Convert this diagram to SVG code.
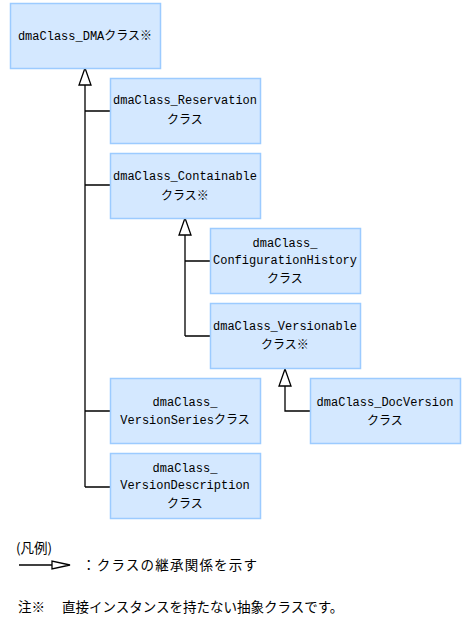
<svg xmlns="http://www.w3.org/2000/svg" width="463" height="631" viewBox="0 0 463 631">
<style>
.box{fill:#D4E8FF;stroke:#9CCBFF;stroke-width:1.5}
.t{font-family:"Liberation Mono","Noto Sans CJK JP",monospace;font-size:12px;fill:#000;text-anchor:middle}
.j{font-family:"Noto Sans CJK JP",sans-serif;font-size:12px}
.ln{fill:none;stroke:#000;stroke-width:1.3}
.tri{fill:#fff;stroke:#000;stroke-width:1.3}
.lg{font-family:"Noto Sans CJK JP",sans-serif;font-size:13.5px;fill:#000}
</style>
<rect width="463" height="631" fill="#fff"/>
<g id="connectors">
<path class="ln" d="M85,85V487M85,111H110M85,185H110M85,411H110M85,487H110"/>
<path class="ln" d="M185,235V336M185,261H210M185,336H210"/>
<path class="ln" d="M285,386V411H310"/>
<polygon class="tri" points="85,68 79,85 91,85"/>
<polygon class="tri" points="185,218 179,235 191,235"/>
<polygon class="tri" points="285,369 279,386 291,386"/>
</g>
<g id="dma">
<rect class="box" x="10.5" y="3.5" width="150" height="65"/>
<text class="t" x="85" y="40">dmaClass_DMA<tspan class="j">クラス※</tspan></text>
</g>
<g id="reservation">
<rect class="box" x="110.5" y="78.5" width="150" height="65"/>
<text class="t" x="185" y="104">dmaClass_Reservation</text>
<text class="t" x="185" y="124"><tspan class="j">クラス</tspan></text>
</g>
<g id="containable">
<rect class="box" x="110.5" y="153.5" width="150" height="65"/>
<text class="t" x="185" y="180">dmaClass_Containable</text>
<text class="t" x="185" y="200"><tspan class="j">クラス※</tspan></text>
</g>
<g id="confighistory">
<rect class="box" x="210.5" y="228.5" width="150" height="65"/>
<text class="t" x="285" y="247">dmaClass_</text>
<text class="t" x="285" y="264">ConfigurationHistory</text>
<text class="t" x="285" y="283"><tspan class="j">クラス</tspan></text>
</g>
<g id="versionable">
<rect class="box" x="210.5" y="303.5" width="150" height="65"/>
<text class="t" x="285" y="330">dmaClass_Versionable</text>
<text class="t" x="285" y="349"><tspan class="j">クラス※</tspan></text>
</g>
<g id="versionseries">
<rect class="box" x="110.5" y="378.5" width="150" height="65"/>
<text class="t" x="185" y="406">dmaClass_</text>
<text class="t" x="185" y="424">VersionSeries<tspan class="j">クラス</tspan></text>
</g>
<g id="docversion">
<rect class="box" x="310.5" y="378.5" width="150" height="65"/>
<text class="t" x="385" y="406">dmaClass_DocVersion</text>
<text class="t" x="385" y="425"><tspan class="j">クラス</tspan></text>
</g>
<g id="versiondescription">
<rect class="box" x="110.5" y="453.5" width="150" height="65"/>
<text class="t" x="185" y="472">dmaClass_</text>
<text class="t" x="185" y="489">VersionDescription</text>
<text class="t" x="185" y="508"><tspan class="j">クラス</tspan></text>
</g>
<g id="legend">
<text class="lg" x="16" y="553">(凡例)</text>
<path class="ln" d="M19,565H52"/>
<polygon class="tri" points="52,561 52,569 70,565"/>
<text class="lg" x="82" y="570" textLength="175" lengthAdjust="spacing">：クラスの継承関係を示す</text>
<text class="lg" x="18" y="612">注※</text>
<text class="lg" x="62" y="612">直接インスタンスを持たない抽象クラスです。</text>
</g>
</svg>
